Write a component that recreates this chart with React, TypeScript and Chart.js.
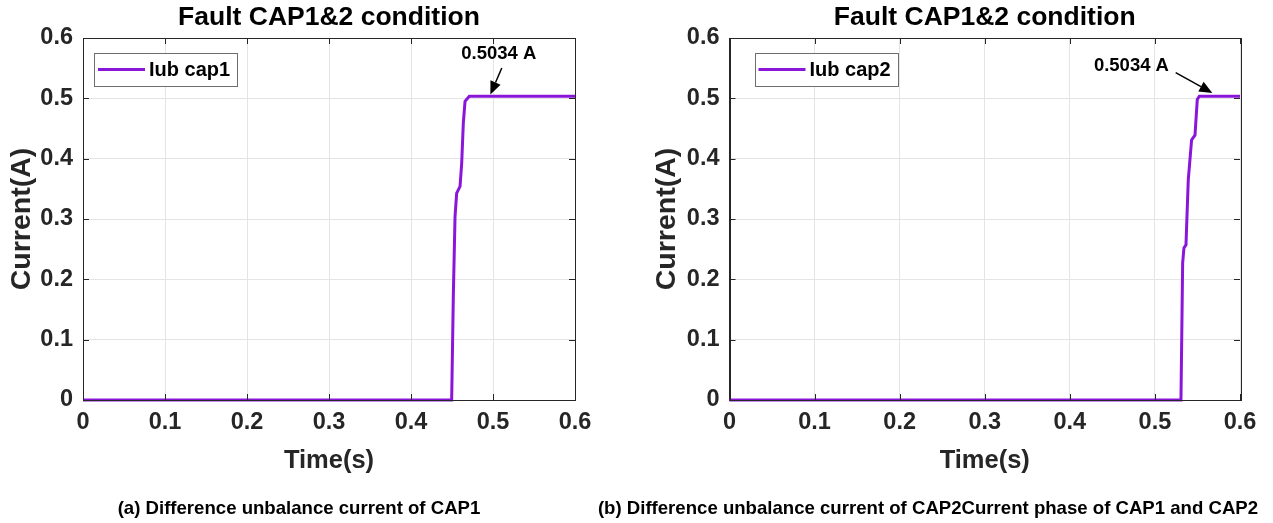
import React, { useEffect, useRef } from "react";
import { Chart, registerables } from "chart.js";

Chart.register(...registerables);

// ---- data ----
const timeCap1 = [0, 0.4496, 0.4516, 0.4537, 0.4557, 0.4598, 0.4618, 0.4638, 0.4659, 0.4711, 0.6];
const iubCap1 = [0, 0, 0.171, 0.304, 0.343, 0.354, 0.392, 0.459, 0.495, 0.5034, 0.5034];
const timeCap2 = [0, 0.5306, 0.5326, 0.5341, 0.5365, 0.5392, 0.5431, 0.5471, 0.5498, 0.5522, 0.6];
const iubCap2 = [0, 0, 0.227, 0.252, 0.257, 0.365, 0.431, 0.439, 0.498, 0.5034, 0.5034];
const xTickValues = [0, 0.1, 0.2, 0.3, 0.4, 0.5, 0.6];
const yTickValues = [0, 0.1, 0.2, 0.3, 0.4, 0.5, 0.6];
const chartTitle = "Fault CAP1&2 condition";
const xTitle = "Time(s)";
const yTitle = "Current(A)";
const labelCap1 = "Iub cap1";
const labelCap2 = "Iub cap2";
const annotationText = "0.5034 A";
const captionA = "(a) Difference unbalance current of CAP1";
const captionB = "(b) Difference unbalance current of CAP2Current phase of CAP1 and CAP2";

const SANS = "'Liberation Sans', Arial, sans-serif";
const PURPLE = "#8A16DA";
const AXIS = "#262626";

type Ann = { tx: number; ty: number; sx: number; sy: number; ex: number; ey: number };

type Params = {
  times: number[];
  values: number[];
  label: string;
  padLeft: number;
  padRight: number;
  yWidth: number;
  legendOffset: number;
  ann: Ann;
};

function makeConfig(p: Params): any {
  const points = p.times.map((t, i) => ({ x: t, y: p.values[i] }));
  const decor = {
    id: "decor",
    afterDraw(chart: any) {
      const { ctx, chartArea: ca, scales } = chart;
      const xs = scales.x;
      const ys = scales.y;
      ctx.save();
      // frame
      ctx.strokeStyle = AXIS;
      ctx.lineWidth = 1;
      ctx.strokeRect(Math.round(ca.left) + 0.5, Math.round(ca.top) + 0.5, Math.round(ca.right - ca.left), Math.round(ca.bottom - ca.top));
      // inner ticks
      ctx.beginPath();
      xTickValues.forEach((v) => {
        const px = Math.round(xs.getPixelForValue(v)) + 0.5;
        ctx.moveTo(px, ca.bottom);
        ctx.lineTo(px, ca.bottom - 6);
        ctx.moveTo(px, ca.top);
        ctx.lineTo(px, ca.top + 6);
      });
      yTickValues.forEach((v) => {
        const py = Math.round(ys.getPixelForValue(v)) + 0.5;
        ctx.moveTo(ca.left, py);
        ctx.lineTo(ca.left + 6, py);
        ctx.moveTo(ca.right, py);
        ctx.lineTo(ca.right - 6, py);
      });
      ctx.stroke();
      // title
      ctx.fillStyle = "#000";
      ctx.font = `bold 26.5px ${SANS}`;
      ctx.textAlign = "center";
      ctx.textBaseline = "middle";
      ctx.fillText(chartTitle, (ca.left + ca.right) / 2, 18);
      // legend
      const ds = chart.data.datasets[0];
      const lx = ca.left + p.legendOffset;
      const ly = 53;
      ctx.font = `bold 20px ${SANS}`;
      const tw = ctx.measureText(ds.label).width;
      const bw = 55 + tw + 7;
      ctx.fillStyle = "#fff";
      ctx.fillRect(lx, ly, bw, 33);
      ctx.strokeStyle = "#6e6e6e";
      ctx.lineWidth = 1;
      ctx.strokeRect(Math.round(lx) + 0.5, ly + 0.5, Math.round(bw), 33);
      ctx.strokeStyle = ds.borderColor;
      ctx.lineWidth = 3;
      ctx.beginPath();
      ctx.moveTo(lx + 4, ly + 16.5);
      ctx.lineTo(lx + 51, ly + 16.5);
      ctx.stroke();
      ctx.fillStyle = "#000";
      ctx.textAlign = "left";
      ctx.textBaseline = "middle";
      ctx.fillText(ds.label, lx + 55, ly + 17);
      // annotation
      const a = p.ann;
      ctx.font = `bold 18.5px ${SANS}`;
      ctx.textAlign = "center";
      ctx.fillText(annotationText, xs.getPixelForValue(a.tx), ys.getPixelForValue(a.ty));
      const sx = xs.getPixelForValue(a.sx);
      const sy = ys.getPixelForValue(a.sy);
      const ex = xs.getPixelForValue(a.ex);
      const ey = ys.getPixelForValue(a.ey);
      const ang = Math.atan2(ey - sy, ex - sx);
      const hl = 13;
      const hw = 5.5;
      const bx = ex - hl * Math.cos(ang);
      const by = ey - hl * Math.sin(ang);
      ctx.strokeStyle = "#000";
      ctx.lineWidth = 1.5;
      ctx.beginPath();
      ctx.moveTo(sx, sy);
      ctx.lineTo(bx, by);
      ctx.stroke();
      ctx.fillStyle = "#000";
      ctx.beginPath();
      ctx.moveTo(ex, ey);
      ctx.lineTo(bx + hw * Math.sin(ang), by - hw * Math.cos(ang));
      ctx.lineTo(bx - hw * Math.sin(ang), by + hw * Math.cos(ang));
      ctx.closePath();
      ctx.fill();
      ctx.restore();
    },
  };
  const fmt = (v: any) => String(Math.round(Number(v) * 10) / 10);
  return {
    type: "line",
    data: {
      datasets: [
        {
          label: p.label,
          data: points,
          borderColor: PURPLE,
          backgroundColor: PURPLE,
          borderWidth: 3,
          pointRadius: 0,
          tension: 0,
          clip: false,
        },
      ],
    },
    options: {
      animation: false,
      responsive: false,
      maintainAspectRatio: false,
      events: [],
      layout: { padding: { left: p.padLeft, right: p.padRight, top: 38, bottom: 45 } },
      plugins: { legend: { display: false }, title: { display: false }, tooltip: { enabled: false } },
      scales: {
        x: {
          type: "linear",
          min: 0,
          max: 0.6,
          afterBuildTicks: (s: any) => {
            s.ticks = xTickValues.map((v) => ({ value: v }));
          },
          afterFit: (s: any) => {
            s.height = 78;
          },
          ticks: { callback: fmt, color: AXIS, font: { family: SANS, size: 23.5, weight: "bold" }, padding: 8, maxRotation: 0 },
          grid: { color: "#e4e4e4", drawTicks: false, lineWidth: 1 },
          border: { display: true, color: AXIS },
          title: { display: true, text: xTitle, color: AXIS, font: { family: SANS, size: 25.5, weight: "bold" }, padding: { top: 0, bottom: 2 } },
        },
        y: {
          type: "linear",
          min: 0,
          max: 0.6,
          afterBuildTicks: (s: any) => {
            s.ticks = yTickValues.map((v) => ({ value: v }));
          },
          afterFit: (s: any) => {
            s.width = p.yWidth;
          },
          ticks: { callback: fmt, color: AXIS, font: { family: SANS, size: 23.5, weight: "bold" }, padding: 10 },
          grid: { color: "#e4e4e4", drawTicks: false, lineWidth: 1 },
          border: { display: true, color: AXIS },
          title: { display: true, text: yTitle, color: AXIS, font: { family: SANS, size: 28.5, weight: "bold" }, padding: 0 },
        },
      },
    },
    plugins: [decor],
  };
}

function ChartBox(props: { left: number; width: number; params: Params }) {
  const ref = useRef<HTMLCanvasElement | null>(null);
  useEffect(() => {
    if (!ref.current) return;
    const chart = new Chart(ref.current, makeConfig(props.params));
    return () => chart.destroy();
  }, []);
  return (
    <div style={{ position: "absolute", left: props.left, top: 0, width: props.width, height: 523 }}>
      <canvas ref={ref} width={props.width} height={523} style={{ width: props.width, height: 523, display: "block" }} />
    </div>
  );
}

const captionStyle: React.CSSProperties = {
  position: "absolute",
  top: 495,
  height: 26,
  lineHeight: "26px",
  textAlign: "center",
  whiteSpace: "nowrap",
  fontFamily: SANS,
  fontWeight: "bold",
  fontSize: 18.6,
  color: "#000",
};

export default function App() {
  const p1: Params = {
    times: timeCap1,
    values: iubCap1,
    label: labelCap1,
    padLeft: 5,
    padRight: 35,
    yWidth: 78,
    legendOffset: 11,
    ann: { tx: 0.507, ty: 0.5735, sx: 0.5107, sy: 0.5503, ex: 0.4968, ey: 0.5065 },
  };
  const p2: Params = {
    times: timeCap2,
    values: iubCap2,
    label: labelCap2,
    padLeft: 40,
    padRight: 33,
    yWidth: 79.5,
    legendOffset: 25,
    ann: { tx: 0.4724, ty: 0.554, sx: 0.5244, sy: 0.5425, ex: 0.5675, ey: 0.509 },
  };
  return (
    <div style={{ position: "fixed", left: 0, top: 0, width: 1273, height: 523, background: "#fff", overflow: "hidden" }}>
      <ChartBox left={0} width={610} params={p1} />
      <ChartBox left={610} width={663} params={p2} />
      <div style={{ ...captionStyle, left: 0, width: 598 }}>{captionA}</div>
      <div style={{ ...captionStyle, left: 578, width: 700 }}>{captionB}</div>
    </div>
  );
}
